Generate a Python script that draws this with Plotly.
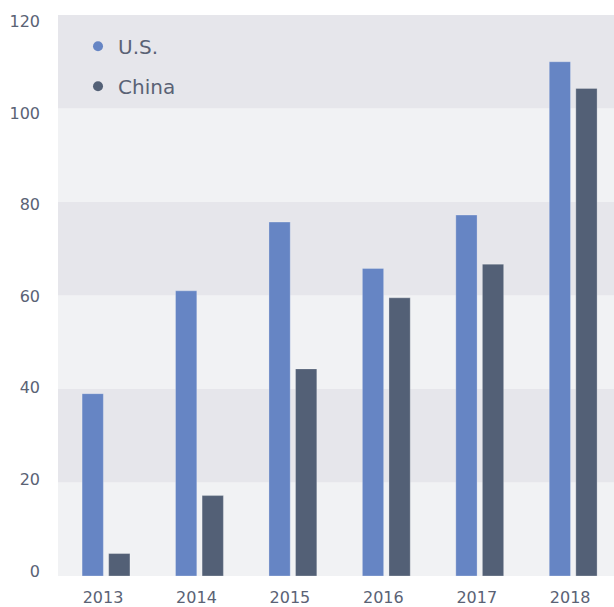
import plotly.graph_objects as go

# Annual values by country
years = ["2013", "2014", "2015", "2016", "2017", "2018"]
us_values = [39, 61, 75.7, 65.8, 77.2, 110]
china_values = [4.8, 17.2, 44.3, 59.5, 66.7, 104.3]

y_ticks = [0, 20, 40, 60, 80, 100, 120]

US_COLOR = "#6685c4"
CHINA_COLOR = "#536076"
TEXT_COLOR = "#5a6275"
BAND_DARK = "#e6e6eb"
BAND_LIGHT = "#f1f2f4"
FONT = "DejaVu Sans"

fig = go.Figure()

fig.add_trace(go.Bar(
    x=years, y=us_values, name="U.S.", marker_color=US_COLOR,
    marker_line=dict(color="rgba(255,255,255,0.25)", width=1),
    showlegend=False, hoverinfo="x+y",
))
fig.add_trace(go.Bar(
    x=years, y=china_values, name="China", marker_color=CHINA_COLOR,
    marker_line=dict(color="rgba(255,255,255,0.25)", width=1),
    showlegend=False, hoverinfo="x+y",
))

# Round legend markers
for name, color in [("U.S.", US_COLOR), ("China", CHINA_COLOR)]:
    fig.add_trace(go.Scatter(
        x=[None], y=[None], mode="markers", name=name, legendgroup=name,
        marker=dict(color=color, size=10, symbol="circle"),
        hoverinfo="skip",
    ))

# Axis carrying the value labels on the left
fig.add_trace(go.Scatter(
    x=[years[0], years[0]], y=[y_ticks[0], y_ticks[-1]], yaxis="y2",
    mode="markers", marker=dict(opacity=0), showlegend=False, hoverinfo="skip",
))

# Alternating horizontal bands
for i in range(len(y_ticks) - 1):
    fig.add_shape(
        type="rect", xref="paper", yref="y", x0=0, x1=1,
        y0=y_ticks[i], y1=y_ticks[i + 1],
        fillcolor=BAND_LIGHT if i % 2 == 0 else BAND_DARK,
        line_width=0, layer="below",
    )

fig.update_layout(
    width=614, height=607,
    margin=dict(l=58, r=0, t=15, b=31),
    paper_bgcolor="white", plot_bgcolor="rgba(0,0,0,0)",
    barmode="group", bargap=0.431, bargroupgap=0.2,
    font=dict(family=FONT, color=TEXT_COLOR),
    xaxis=dict(
        type="category", range=[-0.514, 5.437], showgrid=False, zeroline=False,
        showline=False, ticks="", tickfont=dict(size=16, color=TEXT_COLOR),
        ticklabelstandoff=10, ticklabelshift=-3, automargin=False,
    ),
    yaxis=dict(
        range=[0, 120], showgrid=False, zeroline=False, showticklabels=False,
        ticks="", automargin=False,
    ),
    yaxis2=dict(
        domain=[0.0089, 0.9888], range=[0, 120], anchor="free", position=0,
        tickvals=y_ticks, showgrid=False, zeroline=False, showline=False,
        ticks="", tickfont=dict(size=16, color=TEXT_COLOR),
        ticklabelstandoff=18, automargin=False,
    ),
    legend=dict(
        x=0.036, y=0.979, xanchor="left", yanchor="top",
        bgcolor="rgba(0,0,0,0)", font=dict(size=20, color=TEXT_COLOR),
        tracegroupgap=11, itemclick=False,
    ),
    showlegend=True,
)

fig.write_html("out.html")
